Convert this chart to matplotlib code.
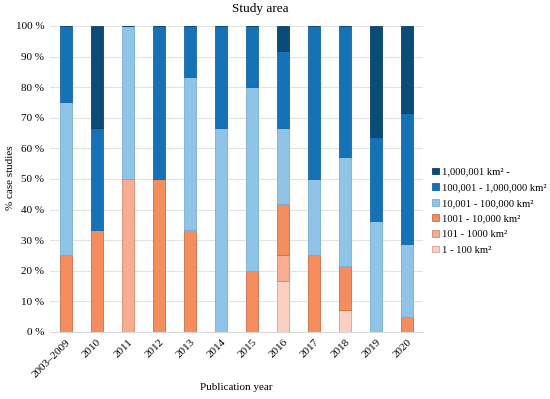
import matplotlib
matplotlib.use("Agg")
import matplotlib.pyplot as plt
import numpy as np

plt.rcParams['font.family'] = ['Liberation Serif', 'DejaVu Serif']

categories = ["2003–2009", "2010", "2011", "2012", "2013", "2014", "2015",
              "2016", "2017", "2018", "2019", "2020"]
s_1_100 =        [0, 0, 0, 0, 0, 0, 0, 16.7, 0, 7.1, 0, 0]
s_101_1000 =     [0, 0, 50, 0, 0, 0, 0, 8.3, 0, 0, 0, 0]
s_1001_10000 =   [25, 33.3, 0, 50, 33.3, 0, 20, 16.7, 25, 14.3, 0, 4.8]
s_10001_100000 = [50, 0, 50, 0, 50, 66.7, 60, 25, 25, 35.7, 36.4, 23.8]
s_100001_1M =    [25, 33.3, 0, 50, 16.7, 33.3, 20, 25, 50, 42.9, 27.3, 42.9]
s_1M_plus =      [0, 33.4, 0, 0, 0, 0, 0, 8.3, 0, 0, 36.3, 28.5]

labels = ["1 - 100 km²", "101 - 1000 km²", "1001 - 10,000 km²",
          "10,001 - 100,000 km²", "100,001 - 1,000,000 km²", "1,000,001 km² -"]
series = [s_1_100, s_101_1000, s_1001_10000, s_10001_100000, s_100001_1M, s_1M_plus]
colors = ["#fbd0c2", "#f8ad90", "#f58d5e", "#8fc4e8", "#1572b6", "#0b4b78"]
edges = ["#d9a090", "#d08a70", "#c8704a", "#7aaed0", "#1565a0", "#0a4068"]

fig = plt.figure(figsize=(5.5, 3.99), dpi=100)
ax = fig.add_axes([0.091, 0.168, 0.678, 0.767])

x = np.arange(len(categories))
bottom = np.zeros(len(categories))
handles = []
for vals, c, ec, lab in zip(series, colors, edges, labels):
    v = np.array(vals)
    b = ax.bar(x, v, 0.39, bottom=bottom, color=c, edgecolor=ec, linewidth=0.6,
               label=lab, zorder=3)
    bottom += v
    handles.append(b)

ax.set_xlim(-0.5, len(categories) - 0.5)
ax.set_ylim(0, 100)
ax.set_yticks(np.arange(0, 101, 10))
ax.set_yticklabels([f"{t} %" for t in range(0, 101, 10)], fontsize=8)
ax.set_xticks(x)
ax.set_xticklabels(categories, rotation=45, ha='right', rotation_mode='anchor', fontsize=8)
ax.tick_params(axis='both', length=0, pad=4)
ax.yaxis.grid(True, color='#e3e3e3', linewidth=0.8, zorder=0)
for s in ['top', 'right', 'left']:
    ax.spines[s].set_visible(False)
ax.spines['bottom'].set_color('#d9d9d9')

fig.text(0.473, 0.977, "Study area", fontsize=9.5, ha='center', va='center')
fig.text(0.02, 0.555, "% case studies", fontsize=8, ha='center', va='center', rotation=90)
fig.text(0.43, 0.028, "Publication year", fontsize=8, ha='center', va='center')

leg = fig.legend(handles[::-1], labels[::-1], loc='upper left',
                 bbox_to_anchor=(0.786, 0.58), frameon=False, fontsize=7.6,
                 handlelength=0.6, handleheight=0.6, handletextpad=0.35,
                 labelspacing=0.62, borderaxespad=0, borderpad=0)

fig.savefig("out.png", dpi=100)
